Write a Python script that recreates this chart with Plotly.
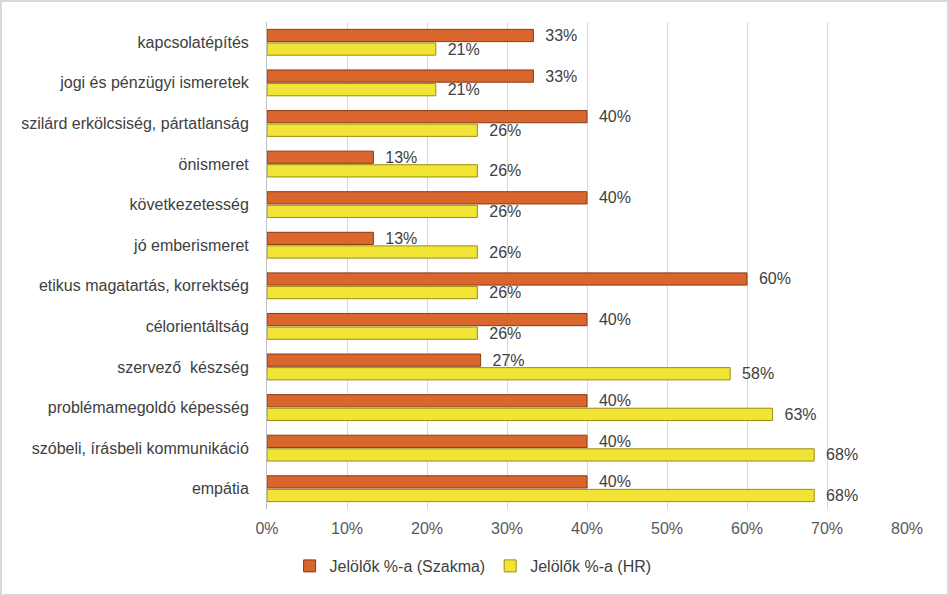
import plotly.graph_objects as go

categories = [
    "kapcsolatépítés",
    "jogi és pénzügyi ismeretek",
    "szilárd erkölcsiség, pártatlanság",
    "önismeret",
    "következetesség",
    "jó emberismeret",
    "etikus magatartás, korrektség",
    "célorientáltság",
    "szervező  készség",
    "problémamegoldó képesség",
    "szóbeli, írásbeli kommunikáció",
    "empátia",
]
szakma = [0.333, 0.333, 0.40, 0.133, 0.40, 0.133, 0.60, 0.40, 0.267, 0.40, 0.40, 0.40]
hr = [0.211, 0.211, 0.263, 0.263, 0.263, 0.263, 0.263, 0.263, 0.579, 0.632, 0.684, 0.684]
x_ticks = [0, 0.1, 0.2, 0.3, 0.4, 0.5, 0.6, 0.7, 0.8]
x_tick_labels = ["0%", "10%", "20%", "30%", "40%", "50%", "60%", "70%", "80%"]

W, H = 949, 596
ML, MR, MT, MB = 267, 42, 22, 87
PW, PH = W - ML - MR, H - MT - MB

font_family = "Liberation Sans, Arial, sans-serif"
FS = 16

fig = go.Figure()
fig.add_trace(go.Bar(
    y=categories, x=szakma, orientation="h", name="Jelölők %-a (Szakma)",
    marker=dict(color="#D9662C", line=dict(color="#8A3A14", width=1)),
    texttemplate="\u00a0\u00a0%{x:.0%}", textposition="outside",
    constraintext="none",
    textfont=dict(size=FS, color="#404040", family=font_family),
    cliponaxis=False,
))
fig.add_trace(go.Bar(
    y=categories, x=hr, orientation="h", name="Jelölők %-a (HR)",
    marker=dict(color="#F2E435", line=dict(color="#9C8C12", width=1)),
    texttemplate="\u00a0\u00a0%{x:.0%}", textposition="outside",
    constraintext="none",
    textfont=dict(size=FS, color="#404040", family=font_family),
    cliponaxis=False,
))

fig.update_layout(
    width=W, height=H,
    margin=dict(l=ML, r=MR, t=MT, b=MB, autoexpand=False),
    barmode="group", bargap=0.33, bargroupgap=0.1,
    plot_bgcolor="white", paper_bgcolor="white",
    font=dict(family=font_family, size=FS, color="#404040"),
    xaxis=dict(
        range=[0, 0.8], tickvals=x_ticks, ticktext=x_tick_labels,
        showgrid=True, gridcolor="#D9D9D9", gridwidth=1,
        zeroline=False, showline=False,
        tickfont=dict(size=FS, color="#595959"), ticks="",
        ticklabelstandoff=8, automargin=False,
    ),
    yaxis=dict(
        autorange="reversed", showgrid=False, zeroline=False,
        showline=True, linecolor="#BFBFBF", linewidth=1,
        tickfont=dict(size=FS, color="#404040"), ticks="",
        ticklabelstandoff=14, automargin=False,
    ),
    legend=dict(
        orientation="h", x=0.322, xanchor="center", y=-0.117, yanchor="middle",
        font=dict(size=FS, color="#404040"), traceorder="normal",
        itemwidth=30,
    ),
    showlegend=True,
)

# outer border of the chart area
fig.add_shape(
    type="rect", xref="paper", yref="paper",
    x0=(1 - ML) / PW, x1=1 + (MR - 1) / PW,
    y0=-(MB - 1) / PH, y1=1 + (MT - 1) / PH,
    line=dict(color="#D9D9D9", width=2), fillcolor="rgba(0,0,0,0)",
)

fig.write_html(
    "out.html",
    config={"displayModeBar": False},
    post_script="document.body.style.margin='0';",
)
